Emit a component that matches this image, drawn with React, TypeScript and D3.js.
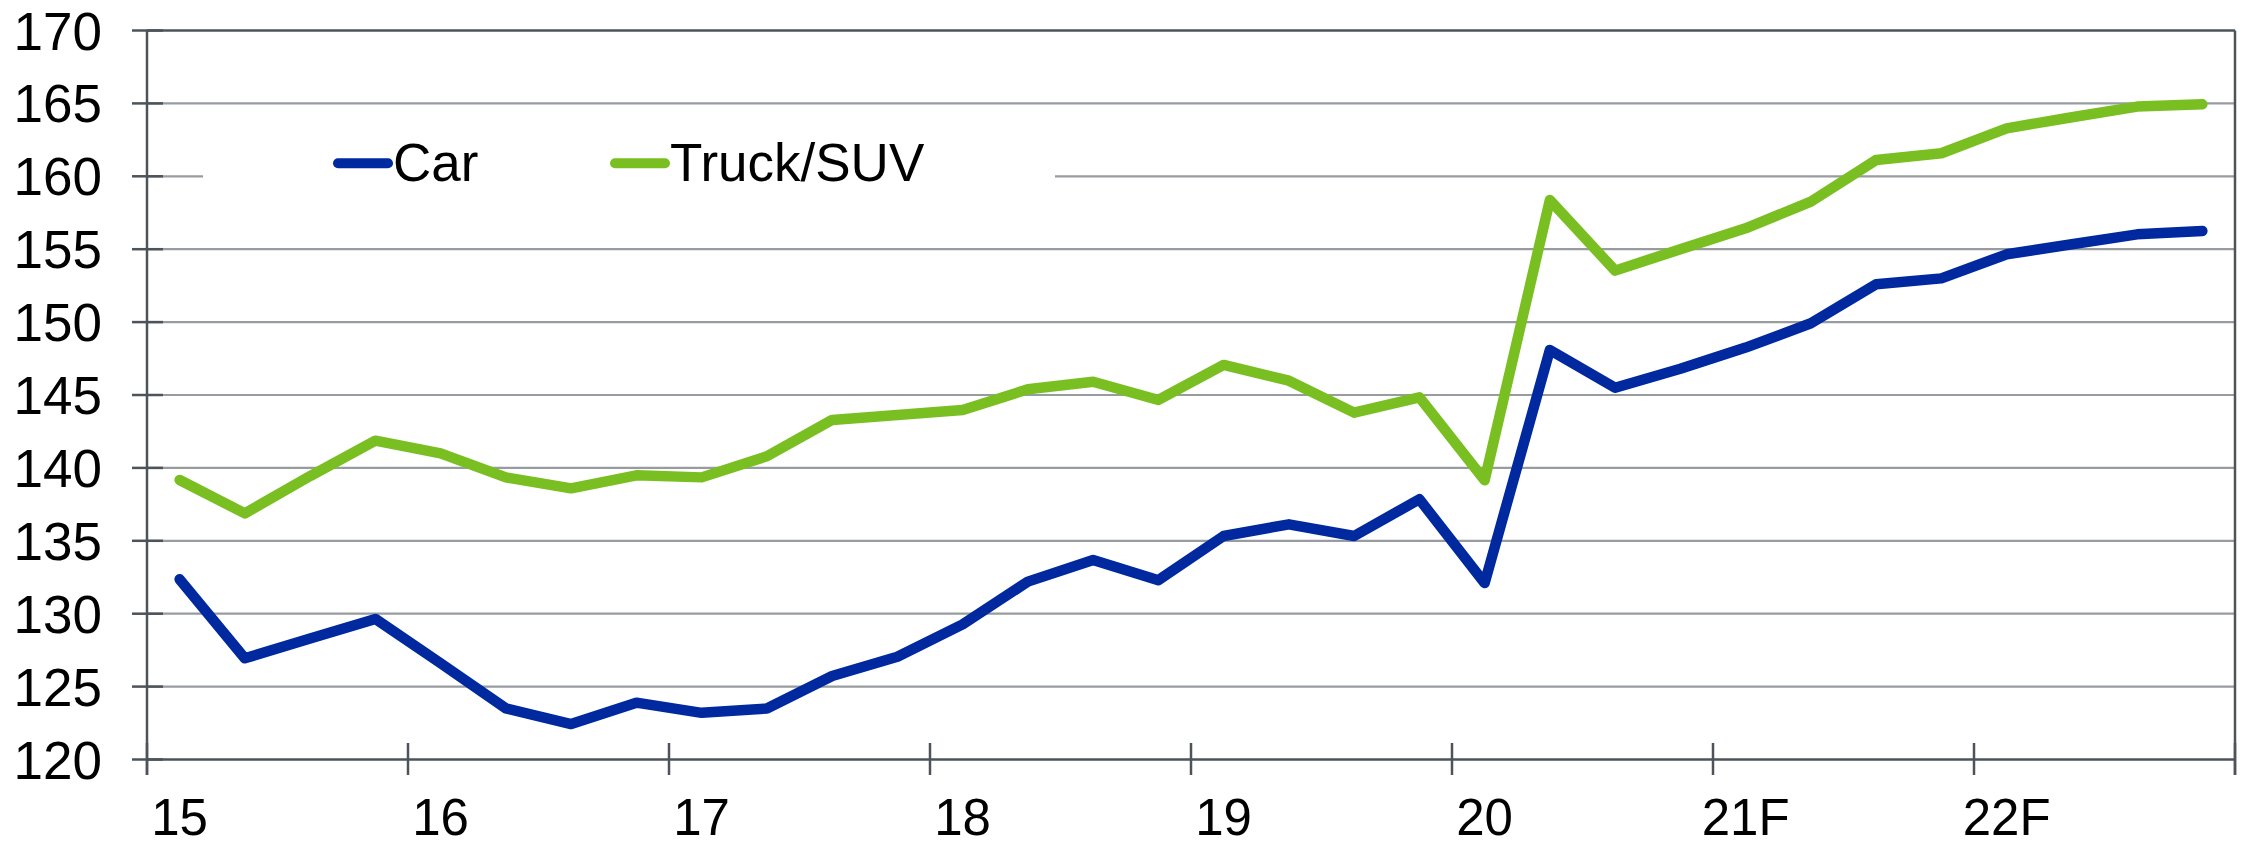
import React from "react";
import * as d3 from "d3";

const yearLabels = ["15", "16", "17", "18", "19", "20", "21F", "22F"];
const yTicks = [120, 125, 130, 135, 140, 145, 150, 155, 160, 165, 170];

const carValues = [
  132.36, 126.94, 128.3, 129.64, 126.6, 123.51, 122.43, 123.9,
  123.2, 123.5, 125.73, 127.05, 129.27, 132.2, 133.68, 132.3,
  135.33, 136.13, 135.33, 137.85, 132.1, 148.09, 145.5, 146.8,
  148.25, 149.92, 152.59, 153.0, 154.65, 155.34, 156.02, 156.25,
];
const truckValues = [
  139.17, 136.88, 139.44, 141.87, 141.0, 139.35, 138.6, 139.49,
  139.35, 140.8, 143.29, 143.63, 143.97, 145.39, 145.91, 144.66,
  147.06, 145.98, 143.79, 144.84, 139.15, 158.37, 153.53, 155.0,
  156.43, 158.26, 161.12, 161.58, 163.29, 164.05, 164.78, 164.94,
];

const seriesNames = ["Car", "Truck/SUV"];
const seriesColors = ["#0029A0", "#7ABF22"];

const W = 2241;
const H = 846;
const FONT = "'Liberation Sans', Arial, sans-serif";
const AXIS = "#4D5358";
const GRID = "#989CA0";

export default function App() {
  const left = 147;
  const right = 2235;
  const top = 30.5;
  const bottom = 759.5;
  const n = carValues.length;
  const x = d3.scaleLinear().domain([0, n]).range([left, right]);
  const y = d3.scaleLinear().domain([120, 170]).range([bottom, top]);
  const line = d3
    .line<number>()
    .x((_, i) => x(i + 0.5))
    .y((d) => y(d));
  const yearTicks = d3.range(0, n + 1, 4);
  const series = [carValues, truckValues];

  return (
    <svg
      width={W}
      height={H}
      viewBox={`0 0 ${W} ${H}`}
      style={{ position: "absolute", left: 0, top: 0, background: "#fff" }}
    >
      <rect x={0} y={0} width={W} height={H} fill="#fff" />
      {yTicks.map((t) => (
        <line
          key={"g" + t}
          x1={left}
          x2={right}
          y1={y(t)}
          y2={y(t)}
          stroke={t === 120 || t === 170 ? AXIS : GRID}
          strokeWidth={t === 120 || t === 170 ? 2.5 : 2.2}
        />
      ))}
      {yTicks.map((t) => (
        <line
          key={"yt" + t}
          x1={132}
          x2={163}
          y1={y(t)}
          y2={y(t)}
          stroke={AXIS}
          strokeWidth={2.5}
        />
      ))}
      <line x1={left} x2={left} y1={top} y2={775} stroke={AXIS} strokeWidth={2.5} />
      <line x1={right} x2={right} y1={top} y2={775} stroke={AXIS} strokeWidth={2.5} />
      {yearTicks.map((k) => (
        <line
          key={"xt" + k}
          x1={x(k)}
          x2={x(k)}
          y1={743}
          y2={775}
          stroke={AXIS}
          strokeWidth={2.5}
        />
      ))}
      {yTicks.map((t) => (
        <text
          key={"yl" + t}
          x={102}
          y={y(t)}
          dy="0.36em"
          textAnchor="end"
          fontFamily={FONT}
          fontSize={53}
          fill="#000"
        >
          {t}
        </text>
      ))}
      {yearLabels.map((l, k) => (
        <text
          key={"xl" + l}
          x={x(k * 4 + 0.5)}
          y={835}
          textAnchor="middle"
          fontFamily={FONT}
          fontSize={51}
          fill="#000"
        >
          {l}
        </text>
      ))}
      <rect x={203} y={115} width={852} height={120} fill="#fff" />
      {seriesNames.map((name, i) => {
        const lx = i === 0 ? 333 : 610;
        return (
          <g key={name}>
            <line
              x1={lx + 5}
              x2={lx + 55}
              y1={163.3}
              y2={163.3}
              stroke={seriesColors[i]}
              strokeWidth={10}
              strokeLinecap="round"
            />
            <text
              x={lx + 60}
              y={180.7}
              fontFamily={FONT}
              fontSize={53}
              fill="#000"
            >
              {name}
            </text>
          </g>
        );
      })}
      {series.map((vals, i) => (
        <path
          key={"s" + i}
          d={line(vals) || ""}
          fill="none"
          stroke={seriesColors[i]}
          strokeWidth={10.5}
          strokeLinejoin="round"
          strokeLinecap="round"
        />
      ))}
    </svg>
  );
}
